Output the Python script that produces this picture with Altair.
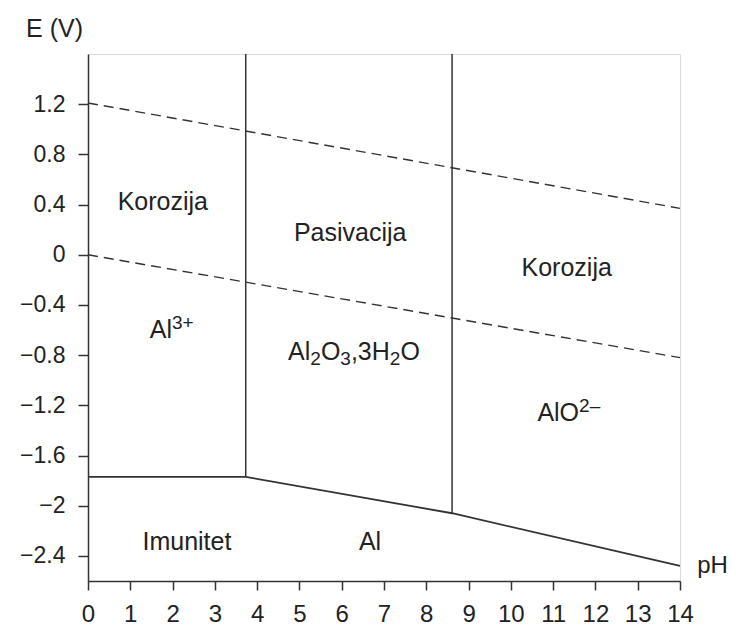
import altair as alt
import pandas as pd

# ---- data ----
ph_ticks = list(range(0, 15))
e_ticks = [1.2, 0.8, 0.4, 0.0, -0.4, -0.8, -1.2, -1.6, -2.0, -2.4]
ph_domain = [0, 14]
e_domain = [-2.6, 1.6]

o2_ph = [0, 14]
o2_e = [1.21, 0.37]
h2_ph = [0, 14]
h2_e = [0.0, -0.82]

al_ph = [0, 3.73, 8.61, 14]
al_e = [-1.77, -1.77, -2.06, -2.48]

vert_ph = [3.73, 8.61]
vert_e_low = [-1.77, -2.06]
vert_e_high = [1.6, 1.6]

# region labels: parts are (text, kind) with kind n=normal, sup, sub
label_parts = [
    [("Korozija", "n")],
    [("Pasivacija", "n")],
    [("Korozija", "n")],
    [("Al", "n"), ("3+", "sup")],
    [("Al", "n"), ("2", "sub"), ("O", "n"), ("3", "sub"), (",3H", "n"), ("2", "sub"), ("O", "n")],
    [("AlO", "n"), ("2–", "sup")],
    [("Imunitet", "n")],
    [("Al", "n")],
]
label_ph = [1.77, 6.2, 11.32, 1.98, 6.29, 11.37, 2.34, 6.67]
label_e = [0.43, 0.18, -0.10, -0.59, -0.77, -1.25, -2.28, -2.28]

FONT = "Liberation Sans"
INK = "#333333"
TXT = "#222222"
MAIN = 25
SCRIPT = 19

# Arial / Liberation Sans advance widths (per em)
W = {"A": .667, "l": .222, "O": .778, ",": .278, "3": .556, "H": .722, "2": .556,
     "+": .584, "–": .556, "K": .667, "o": .556, "r": .333, "z": .5, "i": .222,
     "j": .222, "a": .556, "P": .667, "s": .5, "v": .5, "c": .5, "I": .278,
     "m": .833, "u": .556, "n": .556, "t": .278, "e": .556}


def tw(s, size):
    return sum(W.get(ch, .556) for ch in s) * size


xs = alt.Scale(domain=ph_domain, nice=False, zero=False)
ys = alt.Scale(domain=e_domain, nice=False, zero=False)

x_axis = alt.Axis(values=ph_ticks, title="pH", titleAngle=0, titleX=624, titleY=-9,
                  titleAlign="center", titleBaseline="alphabetic", titleFontWeight="normal",
                  titleFontSize=24, titleColor=TXT, titleFont=FONT,
                  labelFont=FONT, labelFontSize=24, labelColor=TXT, labelPadding=12,
                  tickSize=9, tickColor=INK, domainColor=INK, domainWidth=1.5, tickWidth=1.5,
                  grid=False, labelFlush=False)
y_axis = alt.Axis(values=e_ticks, title="E (V)", titleAngle=0, titleX=-34, titleY=-18,
                  titleAlign="center", titleBaseline="alphabetic", titleFontWeight="normal",
                  titleFontSize=25, titleColor=TXT, titleFont=FONT,
                  labelFont=FONT, labelFontSize=23, labelColor=TXT, labelPadding=13,
                  labelExpr="replace(format(datum.value, '.1~f'), '-', '–')",
                  tickSize=10, tickColor=INK, domainColor=INK, domainWidth=1.5, tickWidth=1.5,
                  grid=False, labelFlush=False)

o2 = pd.DataFrame({"ph": o2_ph, "e": o2_e})
h2 = pd.DataFrame({"ph": h2_ph, "e": h2_e})
al = pd.DataFrame({"ph": al_ph, "e": al_e})
vert = pd.DataFrame({"ph": vert_ph, "lo": vert_e_low, "hi": vert_e_high})

base_axes = alt.Chart(al).mark_line(color=INK, strokeWidth=1.8).encode(
    x=alt.X("ph:Q", scale=xs, axis=x_axis),
    y=alt.Y("e:Q", scale=ys, axis=y_axis),
)

dash_o2 = alt.Chart(o2).mark_line(color=INK, strokeWidth=1.4, strokeDash=[10, 6]).encode(
    x=alt.X("ph:Q", scale=xs), y=alt.Y("e:Q", scale=ys))
dash_h2 = alt.Chart(h2).mark_line(color=INK, strokeWidth=1.4, strokeDash=[10, 6]).encode(
    x=alt.X("ph:Q", scale=xs), y=alt.Y("e:Q", scale=ys))

verts = alt.Chart(vert).mark_rule(color=INK, strokeWidth=1.5).encode(
    x=alt.X("ph:Q", scale=xs), y=alt.Y("lo:Q", scale=ys), y2="hi:Q")

# build text layers, one per text segment (offsets only, positions come from data)
cap_half = 0.716 * MAIN / 2
text_layers = []
for parts, p, e in zip(label_parts, label_ph, label_e):
    sizes = [MAIN if k == "n" else SCRIPT for _, k in parts]
    total = sum(tw(t, s) for (t, _), s in zip(parts, sizes))
    cursor = -total / 2
    for (t, k), s in zip(parts, sizes):
        dy = cap_half
        if k == "sup":
            dy = cap_half - 9
        elif k == "sub":
            dy = cap_half + 5
        df = pd.DataFrame({"ph": [p], "e": [e], "t": [t]})
        text_layers.append(
            alt.Chart(df).mark_text(font=FONT, fontSize=s, color=TXT, align="left",
                                    baseline="alphabetic", dx=cursor, dy=dy).encode(
                x=alt.X("ph:Q", scale=xs), y=alt.Y("e:Q", scale=ys), text="t:N")
        )
        cursor += tw(t, s)

chart = alt.layer(base_axes, dash_o2, dash_h2, verts, *text_layers).properties(
    width=592, height=527,
    autosize=alt.AutoSizeParams(type="none"),
    padding={"left": 80, "top": 46, "right": 48, "bottom": 48},
).configure_view(stroke=INK, strokeWidth=1.5).configure(background="white")

chart.save("out.html", embed_options={"renderer": "svg", "actions": False})
